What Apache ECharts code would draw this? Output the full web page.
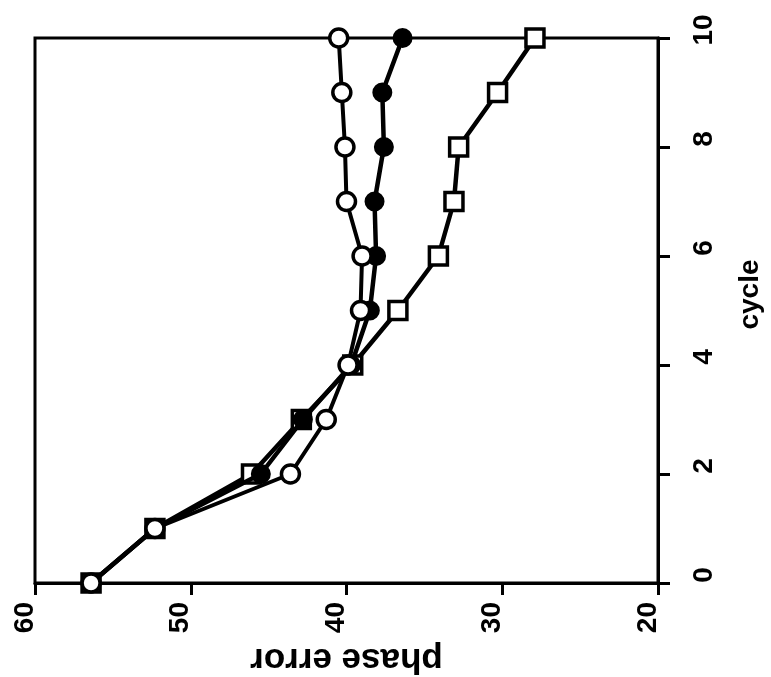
<!DOCTYPE html>
<html>
<head>
<meta charset="utf-8">
<script src="https://cdn.jsdelivr.net/npm/echarts@6/dist/echarts.min.js"></script>
<style>
  html, body { margin: 0; padding: 0; background: #fff; }
  #chart { width: 771px; height: 677px; }
</style>
</head>
<body>
<div id="chart"></div>
<script>
// chart is drawn turned a quarter turn: cycle runs up the right side, phase error along the bottom
var cycles = [0, 1, 2, 3, 4, 5, 6, 7, 8, 9, 10];
var openCircle = [56.4, 52.3, 43.6, 41.3, 39.9, 39.1, 39.0, 40.0, 40.1, 40.3, 40.5];
var filledCircle = [56.4, 52.3, 45.5, 42.8, 39.7, 38.5, 38.1, 38.2, 37.6, 37.7, 36.4];
var squares = [56.4, 52.3, 46.1, 42.9, 39.6, 36.7, 34.1, 33.1, 32.8, 30.3, 27.9];

function pairs(vals) {
  return vals.map(function (v, i) { return [v, cycles[i]]; });
}

var font = 'Liberation Sans, Arial, Helvetica, sans-serif';
var chart = echarts.init(document.getElementById('chart'));

var lineBase = {
  type: 'line',
  lineStyle: { color: '#000', width: 4.5 },
  symbolSize: 18,
  animation: false
};

chart.setOption({
  backgroundColor: '#fff',
  grid: {
    left: 35, right: 113, top: 38, bottom: 94,
    outerBoundsMode: 'none',
    containLabel: false,
    show: true,
    borderColor: '#000',
    borderWidth: 3
  },
  xAxis: {
    type: 'value',
    min: 20, max: 60, interval: 10,
    inverse: true,
    position: 'bottom',
    splitLine: { show: false },
    axisLine: { lineStyle: { color: '#000', width: 3 } },
    axisTick: { length: 12, lineStyle: { color: '#000', width: 3 } },
    axisLabel: {
      rotate: 90, margin: 19,
      verticalAlign: 'bottom', lineHeight: 20,
      color: '#000', fontSize: 28, fontWeight: 'bold', fontFamily: font
    },
    name: 'phase error',
    nameLocation: 'middle',
    nameRotate: 180,
    nameGap: 58,
    nameTextStyle: { color: '#000', fontSize: 35, fontWeight: 'bold', fontFamily: font }
  },
  yAxis: {
    type: 'value',
    min: 0, max: 10, interval: 2,
    position: 'right',
    splitLine: { show: false },
    axisLine: { lineStyle: { color: '#000', width: 3 } },
    axisTick: { length: 12, lineStyle: { color: '#000', width: 3 } },
    axisLabel: {
      rotate: 90, margin: 32,
      padding: [0, 0, 0, 16],
      color: '#000', fontSize: 28, fontWeight: 'bold', fontFamily: font
    },
    name: 'cycle',
    nameLocation: 'middle',
    nameRotate: 90,
    nameGap: 78,
    nameTextStyle: {
      color: '#000', fontSize: 28, fontWeight: 'bold', fontFamily: font,
      padding: [0, 0, 0, 32]
    }
  },
  series: [
    Object.assign({}, lineBase, {
      name: 'square',
      data: pairs(squares),
      symbol: 'rect',
      itemStyle: { color: '#fff', borderColor: '#000', borderWidth: 3.5 },
      z: 2
    }),
    Object.assign({}, lineBase, {
      name: 'filled',
      data: pairs(filledCircle),
      symbol: 'circle',
      itemStyle: { color: '#000', borderColor: '#000', borderWidth: 2 },
      z: 3
    }),
    Object.assign({}, lineBase, {
      name: 'open',
      data: pairs(openCircle),
      symbol: 'circle',
      lineStyle: { color: '#000', width: 4 },
      itemStyle: { color: '#fff', borderColor: '#000', borderWidth: 3.5 },
      z: 4
    })
  ]
});
</script>
</body>
</html>
